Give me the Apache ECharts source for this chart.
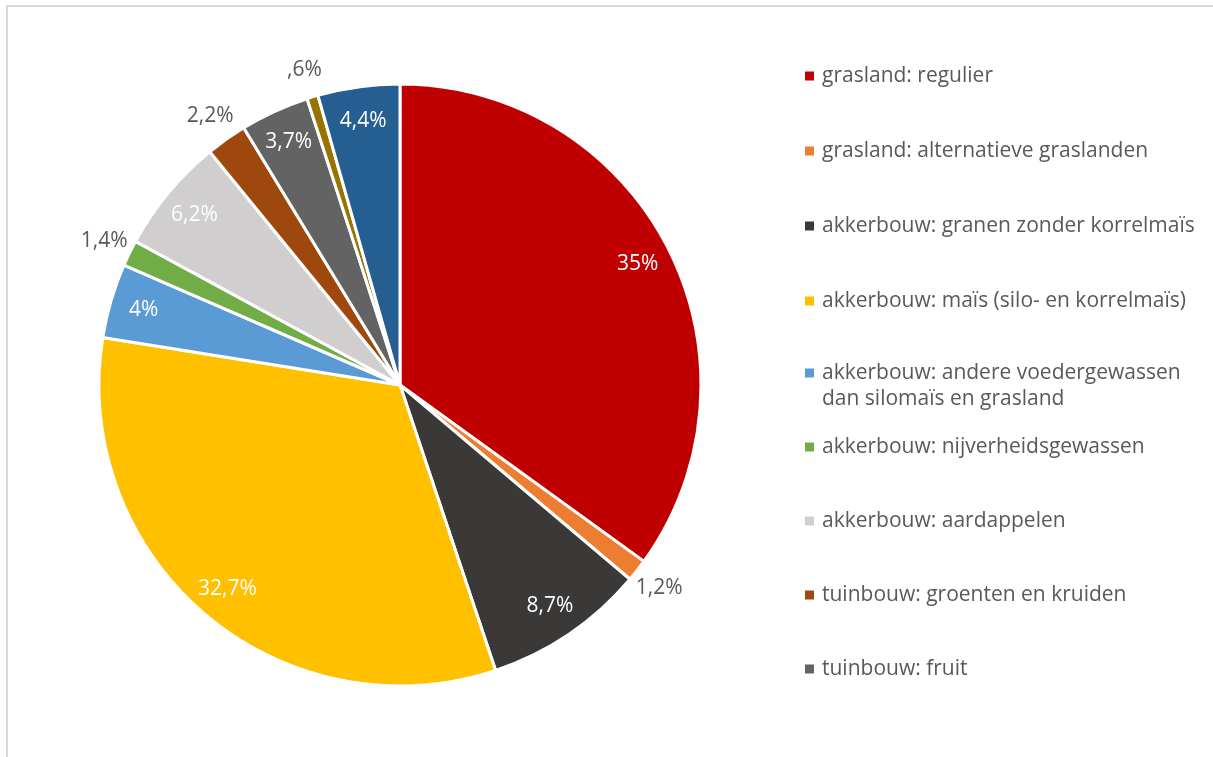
<!DOCTYPE html>
<html>
<head>
<meta charset="utf-8">
<title>Teeltoppervlakte per gewasgroep</title>
<script src="https://cdn.jsdelivr.net/npm/echarts@6/dist/echarts.min.js"></script>
<style>
  html, body { margin: 0; padding: 0; background: #ffffff; }
  #chart { width: 1213px; height: 757px; }
</style>
</head>
<body>
<div id="chart"></div>
<script>
// Gewasgroepen en hun aandeel (%)
const categories = [
  'grasland: regulier',
  'grasland: alternatieve graslanden',
  'akkerbouw: granen zonder korrelmaïs',
  'akkerbouw: maïs (silo- en korrelmaïs)',
  'akkerbouw: andere voedergewassen\ndan silomaïs en grasland',
  'akkerbouw: nijverheidsgewassen',
  'akkerbouw: aardappelen',
  'tuinbouw: groenten en kruiden',
  'tuinbouw: fruit',
  'tuinbouw: sierteelt',
  'overige'
];
const shares = [35, 1.2, 8.7, 32.7, 4, 1.4, 6.2, 2.2, 3.7, 0.6, 4.4];
const colors = ['#C00000', '#ED7D31', '#3B3838', '#FFC000', '#5B9BD5', '#70AD47',
                '#D0CECE', '#9E480E', '#636363', '#997300', '#255E91'];

// Kleine sectoren krijgen hun label buiten de cirkel
const OUTSIDE_BELOW = 3;

const FONT = '"Open Sans", "Noto Sans", sans-serif';
const FONT_SIZE = 21;

function pct(v) {
  let s = String(v).replace('.', ',');
  if (v < 1) s = s.replace(/^0/, '');
  return s + '%';
}

const pieData = categories.map((name, i) => ({
  name: name,
  value: shares[i],
  itemStyle: { color: colors[i] }
}));

// Onzichtbare ring die alleen de labels draagt
const labelRing = (radius, inside) => ({
  type: 'pie',
  center: [400, 385],
  radius: radius,
  startAngle: 90,
  silent: true,
  avoidLabelOverlap: false,
  itemStyle: { color: 'transparent', borderWidth: 0 },
  emphasis: { disabled: true },
  label: {
    show: true,
    position: 'inside',
    fontFamily: FONT,
    fontSize: FONT_SIZE,
    color: inside ? '#ffffff' : '#595959',
    formatter: p => ((p.value >= OUTSIDE_BELOW) === inside ? pct(p.value) : '')
  },
  labelLine: { show: false },
  data: categories.map((name, i) => ({ name: name, value: shares[i] }))
});

const legendText = {
  fontFamily: FONT,
  fontSize: FONT_SIZE,
  color: '#595959',
  lineHeight: 26,
  padding: [0, 0, 0, 3]
};

const legendBase = {
  orient: 'vertical',
  left: 805,
  padding: 0,
  itemWidth: 9,
  itemHeight: 9,
  itemGap: 48,
  icon: 'rect',
  selectedMode: false,
  itemStyle: { borderWidth: 0 },
  textStyle: legendText
};

const chart = echarts.init(document.getElementById('chart'), null, { renderer: 'canvas' });
chart.setOption({
  backgroundColor: '#ffffff',
  animation: false,
  graphic: [{
    type: 'rect',
    shape: { x: 7, y: 6, width: 1300, height: 900 },
    style: { fill: 'none', stroke: '#d9d9d9', lineWidth: 2 },
    silent: true
  }],
  legend: [
    Object.assign({}, legendBase, { top: 63, itemGap: 49, data: categories.slice(0, 4) }),
    // tweeregelig item: markering op hoogte van de eerste regel
    Object.assign({}, legendBase, {
      top: 360,
      itemHeight: 35,
      icon: 'path://M0,0h9v9h-9zM0,35h9',
      data: [categories[4]]
    }),
    Object.assign({}, legendBase, { top: 434, data: categories.slice(5, 9) })
  ],
  series: [
    {
      type: 'pie',
      center: [400, 385],
      radius: [0, 301],
      startAngle: 90,
      clockwise: true,
      avoidLabelOverlap: false,
      itemStyle: { borderColor: '#ffffff', borderWidth: 3 },
      emphasis: { disabled: true },
      label: { show: false },
      labelLine: { show: false },
      data: pieData
    },
    labelRing([230, 298], true),
    labelRing([300, 352], false)
  ]
});
</script>
</body>
</html>
